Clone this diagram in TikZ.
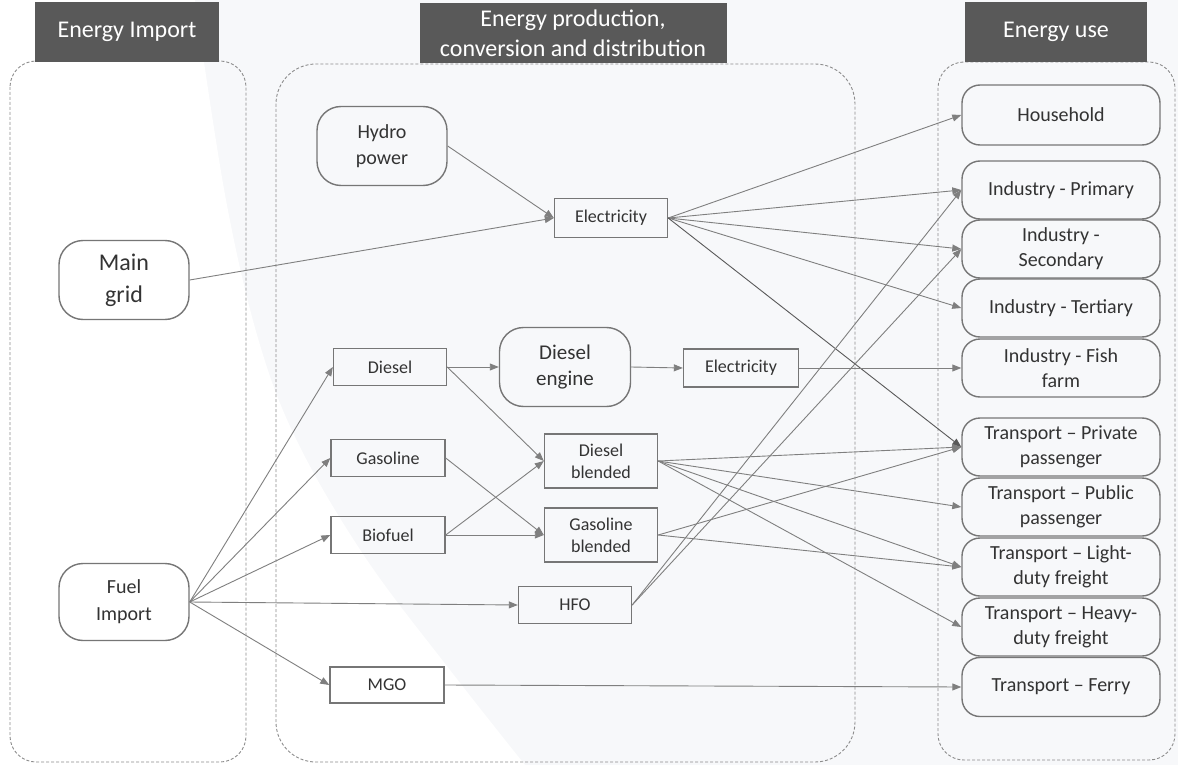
\documentclass[tikz,border=0pt]{standalone}
\usepackage{fontspec}
\setmainfont{Carlito}
\usetikzlibrary{arrows.meta}
\definecolor{hdrgray}{HTML}{595959}
\definecolor{bggray}{HTML}{F7F8FA}
\definecolor{boxgray}{HTML}{767676}
\definecolor{flowgray}{HTML}{7F7F7F}
\definecolor{dashgray}{HTML}{8C8C8C}
\definecolor{txtgray}{HTML}{333333}

\tikzset{
  hdr/.style={fill=hdrgray,text=white,align=center,inner sep=0pt,
    minimum height=60pt,font=\fontsize{24}{30}\selectfont},
  group/.style={draw=dashgray,line width=0.9pt,dash pattern=on 3pt off 2pt},
  fuelbox/.style={draw=boxgray,line width=1.4pt,text=txtgray,align=center,inner sep=0pt,
    minimum width=113pt,minimum height=37pt,font=\fontsize{18}{22}\selectfont},
  roundbox/.style={draw=boxgray,line width=1.4pt,text=txtgray,align=center,inner sep=0pt,
    rounded corners=24pt,minimum width=130pt,minimum height=79pt},
  usebox/.style={draw=boxgray,line width=1.4pt,text=txtgray,align=center,inner sep=0pt,
    rounded corners=18pt,minimum width=198pt,minimum height=58pt,
    font=\fontsize{20}{25}\selectfont},
  flow/.style={draw=flowgray,line width=0.9pt,-{Triangle[length=9pt,width=7pt]}}
}

\begin{document}
\begin{tikzpicture}[x=1pt,y=-1pt]
    \useasboundingbox (0,0) rectangle (1178,765);
    % background
    \fill[bggray] (0,0) rectangle (1178,765);
    \fill[white] (0,0) -- plot[smooth,tension=0.6] coordinates
        {(195,0) (226,200) (260,345) (300,447) (367,560) (450,670) (525,765)}
        -- (0,765) -- cycle;

    % columns
    \draw[group,rounded corners=26pt] (10,61) rectangle (246,762);
    \draw[group,rounded corners=40pt] (276,64) rectangle (855,762);
    \draw[group,rounded corners=26pt] (938,62) rectangle (1175,760);
    \node[hdr,minimum width=184pt] (himport) at (127,32) {Energy Import};
    \node[hdr,minimum width=307pt] (hprod) at (573,33) {Energy production,\\conversion and distribution};
    \node[hdr,minimum width=182pt] (huse) at (1056,32) {Energy use};

    % import
    \node[roundbox,font=\fontsize{24}{32}\selectfont] (grid) at (124,280) {Main\\grid};
    \node[roundbox,minimum height=77pt,font=\fontsize{20}{27}\selectfont] (fuel) at (124,602) {Fuel\\Import};

    % production, conversion and distribution
    \node[roundbox,font=\fontsize{20}{26}\selectfont] (hydro) at (382,146) {Hydro\\power};
    \node[fuelbox,minimum height=39pt] (elec) at (611,218) {Electricity};
    \node[fuelbox] (diesel) at (390,367) {Diesel};
    \node[roundbox,minimum width=131pt,font=\fontsize{21}{26}\selectfont] (engine) at (565,367) {Diesel\\engine};
    \node[fuelbox,minimum width=115pt,minimum height=38pt] (elecb) at (741,368) {Electricity};
    \node[fuelbox,minimum width=114pt] (gasoline) at (388,458) {Gasoline};
    \node[fuelbox,minimum width=114pt] (biofuel) at (388,535) {Biofuel};
    \node[fuelbox,minimum height=54pt] (dblend) at (601,461) {Diesel\\blended};
    \node[fuelbox,minimum height=54pt] (gblend) at (601,535) {Gasoline\\blended};
    \node[fuelbox] (hfo) at (575,605) {HFO};
    \node[fuelbox,minimum width=114pt,minimum height=36pt] (mgo) at (387,685) {MGO};

    % use
    \node[usebox,minimum height=60pt] (house) at (1061,115) {Household};
    \node[usebox] (indprim) at (1061,190) {Industry - Primary};
    \node[usebox] (indsec) at (1061,249) {Industry -\\Secondary};
    \node[usebox] (indter) at (1061,308) {Industry - Tertiary};
    \node[usebox] (indfish) at (1061,368) {Industry - Fish\\farm};
    \node[usebox] (private) at (1061,447) {Transport \textendash{} Private\\passenger};
    \node[usebox] (public) at (1061,507) {Transport \textendash{} Public\\passenger};
    \node[usebox] (light) at (1061,567) {Transport \textendash{} Light-\\duty freight};
    \node[usebox] (heavy) at (1061,627) {Transport \textendash{} Heavy-\\duty freight};
    \node[usebox,minimum height=59pt] (ferry) at (1061,687) {Transport \textendash{} Ferry};

    % flows
    \draw[flow] (hydro.east) -- (elec.west);
    \draw[flow] (grid.east) -- (elec.west);
    \draw[flow] (elec.east) -- (house.west);
    \draw[flow] (elec.east) -- (indprim.west);
    \draw[flow] (elec.east) -- (indsec.west);
    \draw[flow] (elec.east) -- (indter.west);
    \draw[flow,draw=hdrgray] (elec.east) -- (private.west);
    \draw[flow] (fuel.east) -- (diesel.west);
    \draw[flow] (fuel.east) -- (gasoline.west);
    \draw[flow] (fuel.east) -- (biofuel.west);
    \draw[flow] (fuel.east) -- (hfo.west);
    \draw[flow] (fuel.east) -- (mgo.west);
    \draw[flow] (diesel.east) -- (engine.west);
    \draw[flow] (diesel.east) -- (dblend.west);
    \draw[flow] (engine.east) -- (elecb.west);
    \draw[flow] (elecb.east) -- (indfish.west);
    \draw[flow] (gasoline.east) -- (gblend.west);
    \draw[flow] (biofuel.east) -- (dblend.west);
    \draw[flow] (biofuel.east) -- (gblend.west);
    \draw[flow] (dblend.east) -- (private.west);
    \draw[flow] (dblend.east) -- (public.west);
    \draw[flow] (dblend.east) -- (light.west);
    \draw[flow] (dblend.east) -- (heavy.west);
    \draw[flow] (gblend.east) -- (private.west);
    \draw[flow] (gblend.east) -- (light.west);
    \draw[flow] (hfo.east) -- (indprim.west);
    \draw[flow] (hfo.east) -- (indsec.west);
    \draw[flow] (mgo.east) -- (ferry.west);
\end{tikzpicture}
\end{document}
